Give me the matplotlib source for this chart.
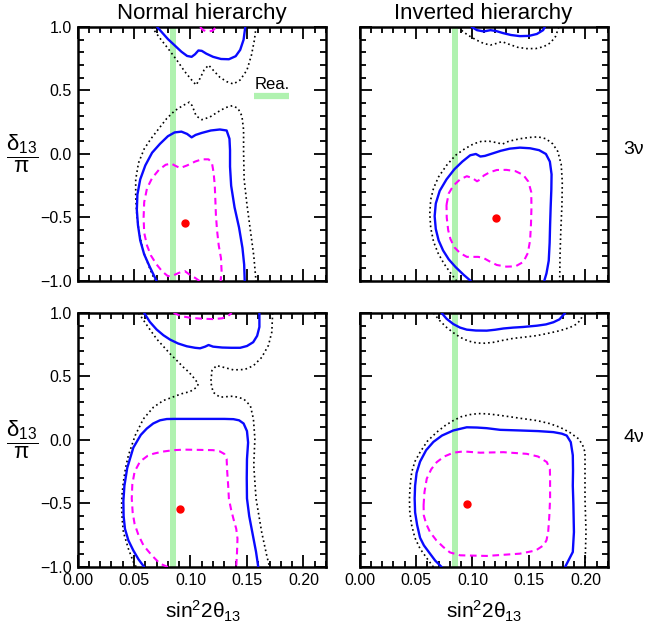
import matplotlib
matplotlib.use("Agg")
import matplotlib.pyplot as plt
import numpy as np
from matplotlib.ticker import MultipleLocator, FuncFormatter

plt.rcParams['font.family'] = ['Liberation Sans', 'DejaVu Sans']
plt.rcParams['mathtext.fontset'] = 'custom'
plt.rcParams['mathtext.rm'] = 'Liberation Sans'
plt.rcParams['mathtext.it'] = 'Liberation Sans'
plt.rcParams['mathtext.bf'] = 'Liberation Sans:bold'

# ---- data: (sin^2 2theta13, delta/pi) ----
# reactor band and legend
rea_band = [0.0815, 0.087]

# best fit points
bf_nh3 = (0.0952, -0.54)
bf_ih3 = (0.121, -0.504)
bf_nh4 = (0.0907, -0.541)
bf_ih4 = (0.0949, -0.502)

# Normal hierarchy, 3 nu
nh3_blue_top_x = [0.0705, 0.075, 0.080, 0.086, 0.092, 0.097, 0.101, 0.104, 0.107, 0.110, 0.114, 0.120, 0.127, 0.134, 0.140, 0.144, 0.147, 0.1485]
nh3_blue_top_y = [1.0, 0.955, 0.905, 0.855, 0.805, 0.772, 0.765, 0.785, 0.815, 0.812, 0.790, 0.765, 0.748, 0.746, 0.770, 0.820, 0.900, 1.0]
nh3_dot_top_x = [0.0657, 0.073, 0.080, 0.0878, 0.095, 0.101, 0.105, 0.1085, 0.112, 0.116, 0.120, 0.126, 0.132, 0.138, 0.144, 0.150, 0.154, 0.1566, 0.158]
nh3_dot_top_y = [1.0, 0.911, 0.832, 0.74, 0.648, 0.583, 0.543, 0.596, 0.661, 0.70, 0.661, 0.604, 0.57, 0.551, 0.583, 0.661, 0.78, 0.898, 1.0]
nh3_mag_top_x = [0.1085, 0.111, 0.115, 0.1195, 0.123]
nh3_mag_top_y = [1.0, 0.976, 0.963, 0.971, 1.0]
nh3_mag_x = [0.108, 0.104, 0.100, 0.095, 0.090, 0.085, 0.080, 0.075, 0.070, 0.065, 0.0615, 0.059, 0.0585, 0.059, 0.0615, 0.066, 0.072, 0.078, 0.083, 0.087, 0.091, 0.097, 0.104, 0.110, 0.116, 0.119, 0.1205, 0.1215, 0.122, 0.1225, 0.1235, 0.125, 0.127, 0.1275, 0.1267]
nh3_mag_y = [-1.0, -0.975, -0.955, -0.922, -0.935, -0.955, -0.962, -0.925, -0.87, -0.80, -0.72, -0.62, -0.50, -0.38, -0.27, -0.19, -0.125, -0.085, -0.075, -0.095, -0.11, -0.09, -0.06, -0.042, -0.042, -0.07, -0.15, -0.25, -0.36, -0.48, -0.60, -0.72, -0.82, -0.92, -1.0]
nh3_blue_x = [0.0700, 0.0640, 0.0590, 0.0555, 0.0535, 0.0525, 0.0530, 0.0555, 0.0600, 0.0660, 0.0730, 0.0800, 0.0860, 0.0920, 0.0970, 0.1010, 0.1045, 0.1100, 0.1180, 0.1260, 0.1320, 0.1345, 0.1350, 0.1350, 0.1360, 0.1390, 0.1430, 0.1460, 0.1475, 0.1480]
nh3_blue_y = [-1.0, -0.89, -0.79, -0.68, -0.56, -0.44, -0.32, -0.20, -0.09, 0.01, 0.08, 0.14, 0.17, 0.176, 0.158, 0.131, 0.150, 0.166, 0.185, 0.193, 0.185, 0.12, 0.03, -0.10, -0.25, -0.42, -0.58, -0.74, -0.87, -1.0]
nh3_dot_x = [0.0686, 0.0630, 0.0580, 0.0545, 0.0525, 0.0515, 0.0515, 0.0540, 0.0590, 0.0650, 0.0720, 0.0790, 0.0860, 0.0930, 0.0990, 0.1015, 0.1050, 0.1100, 0.1170, 0.1240, 0.1310, 0.1370, 0.1420, 0.1455, 0.1470, 0.1470, 0.1475, 0.1500, 0.1530, 0.1560, 0.1580]
nh3_dot_y = [-1.0, -0.88, -0.76, -0.62, -0.48, -0.34, -0.20, -0.07, 0.04, 0.12, 0.20, 0.28, 0.34, 0.38, 0.408, 0.38, 0.30, 0.27, 0.29, 0.33, 0.365, 0.38, 0.36, 0.30, 0.19, 0.02, -0.20, -0.40, -0.60, -0.80, -1.0]

# Inverted hierarchy, 3 nu
ih3_blue_top_x = [0.0993, 0.104, 0.110, 0.116, 0.121, 0.127, 0.134, 0.142, 0.150, 0.157, 0.1625, 0.164]
ih3_blue_top_y = [1.0, 0.975, 0.965, 0.975, 0.968, 0.952, 0.937, 0.928, 0.93, 0.945, 0.975, 1.0]
ih3_dot_top_x = [0.0875, 0.092, 0.098, 0.104, 0.110, 0.116, 0.121, 0.126, 0.132, 0.140, 0.148, 0.156, 0.163, 0.169, 0.1735, 0.1765]
ih3_dot_top_y = [1.0, 0.96, 0.925, 0.895, 0.87, 0.858, 0.87, 0.885, 0.865, 0.84, 0.83, 0.83, 0.845, 0.875, 0.925, 1.0]
ih3_blue_x = [0.0985, 0.0920, 0.0850, 0.0790, 0.0740, 0.0700, 0.0675, 0.0665, 0.0675, 0.0710, 0.0770, 0.0840, 0.0910, 0.0980, 0.1030, 0.1070, 0.1110, 0.1180, 0.1250, 0.1330, 0.1420, 0.1510, 0.1590, 0.1650, 0.1685, 0.1700, 0.1698, 0.1692, 0.1687, 0.1683, 0.1675, 0.1655, 0.1635]
ih3_blue_y = [-1.0, -0.95, -0.89, -0.83, -0.76, -0.68, -0.59, -0.49, -0.39, -0.29, -0.20, -0.12, -0.06, -0.01, 0.0, -0.02, -0.015, 0.005, 0.025, 0.042, 0.05, 0.045, 0.03, 0.0, -0.06, -0.16, -0.28, -0.42, -0.56, -0.70, -0.84, -0.94, -1.0]
ih3_dot_x = [0.0860, 0.0800, 0.0745, 0.0695, 0.0655, 0.0630, 0.0622, 0.0630, 0.0655, 0.0700, 0.0770, 0.0850, 0.0930, 0.1010, 0.1080, 0.1150, 0.1210, 0.1265, 0.1320, 0.1420, 0.1500, 0.1580, 0.1650, 0.1710, 0.1755, 0.1785, 0.1795, 0.1792, 0.1782, 0.1775, 0.1772]
ih3_dot_y = [-1.0, -0.93, -0.86, -0.78, -0.69, -0.58, -0.47, -0.36, -0.27, -0.18, -0.09, -0.01, 0.04, 0.08, 0.10, 0.10, 0.09, 0.078, 0.10, 0.12, 0.13, 0.135, 0.12, 0.08, 0.02, -0.08, -0.22, -0.40, -0.60, -0.80, -1.0]
ih3_mag_x = [0.0770, 0.0790, 0.0830, 0.0890, 0.0950, 0.1000, 0.1040, 0.1070, 0.1100, 0.1150, 0.1215, 0.1300, 0.1380, 0.1450, 0.1495, 0.1520, 0.1522, 0.1518, 0.1510, 0.1490, 0.1450, 0.1380, 0.1300, 0.1215, 0.1150, 0.1100, 0.1050, 0.1000, 0.0950, 0.0890, 0.0840, 0.0805, 0.0785, 0.0772, 0.0770]
ih3_mag_y = [-0.40, -0.31, -0.25, -0.20, -0.175, -0.19, -0.215, -0.2, -0.17, -0.145, -0.126, -0.125, -0.135, -0.165, -0.218, -0.30, -0.42, -0.55, -0.68, -0.78, -0.85, -0.885, -0.887, -0.874, -0.845, -0.82, -0.81, -0.81, -0.81, -0.78, -0.735, -0.67, -0.60, -0.50, -0.40]

# Normal hierarchy, 4 nu
nh4_blue_top_x = [0.059, 0.064, 0.070, 0.076, 0.082, 0.089, 0.0967, 0.104, 0.1085, 0.113, 0.116, 0.120, 0.128, 0.136, 0.144, 0.150, 0.1555, 0.159, 0.161, 0.161]
nh4_blue_top_y = [1.0, 0.93, 0.87, 0.825, 0.79, 0.76, 0.738, 0.726, 0.722, 0.735, 0.748, 0.735, 0.728, 0.726, 0.726, 0.74, 0.77, 0.82, 0.89, 1.0]
nh4_mag_top_x = [0.085, 0.092, 0.100, 0.110, 0.120, 0.128, 0.133, 0.1365]
nh4_mag_top_y = [1.0, 0.975, 0.962, 0.955, 0.952, 0.958, 0.975, 1.0]
nh4_dot_left_x = [0.054, 0.0627, 0.070, 0.076, 0.082, 0.088, 0.0937, 0.0985, 0.1025, 0.107, 0.1055, 0.0996, 0.0925, 0.0878, 0.082, 0.076, 0.0672, 0.0583, 0.051, 0.045, 0.0425, 0.0406, 0.0395, 0.039, 0.0395, 0.0406, 0.045, 0.0494, 0.052]
nh4_dot_left_y = [1.0, 0.887, 0.796, 0.737, 0.678, 0.625, 0.573, 0.535, 0.494, 0.442, 0.415, 0.381, 0.365, 0.35, 0.33, 0.311, 0.258, 0.166, 0.035, -0.122, -0.22, -0.33, -0.42, -0.515, -0.62, -0.725, -0.856, -0.96, -1.0]
nh4_dot_right_x = [0.1727, 0.1720, 0.1690, 0.1630, 0.1557, 0.1480, 0.1380, 0.1290, 0.1230, 0.1190, 0.1180, 0.1200, 0.1260, 0.1380, 0.1470, 0.1530, 0.1557, 0.1570, 0.1560, 0.1580, 0.1630, 0.1675, 0.1700]
nh4_dot_right_y = [1.0, 0.85, 0.745, 0.65, 0.585, 0.555, 0.552, 0.573, 0.586, 0.547, 0.455, 0.376, 0.337, 0.345, 0.324, 0.27, 0.166, 0.01, -0.20, -0.46, -0.725, -0.91, -1.0]
nh4_blue_x = [0.059, 0.054, 0.0494, 0.045, 0.042, 0.0408, 0.0406, 0.0415, 0.044, 0.0494, 0.056, 0.0613, 0.067, 0.073, 0.079, 0.085, 0.100, 0.115, 0.130, 0.138, 0.143, 0.147, 0.150, 0.151, 0.150, 0.1498, 0.150, 0.152, 0.155, 0.158, 0.160]
nh4_blue_y = [-1.0, -0.94, -0.87, -0.79, -0.70, -0.60, -0.48, -0.36, -0.22, -0.06, 0.04, 0.09, 0.13, 0.155, 0.165, 0.166, 0.166, 0.166, 0.166, 0.164, 0.155, 0.13, 0.07, -0.02, -0.15, -0.30, -0.46, -0.60, -0.74, -0.88, -1.0]
nh4_mag_x = [0.080, 0.073, 0.0657, 0.0584, 0.054, 0.0505, 0.0488, 0.048, 0.0485, 0.0505, 0.0553, 0.062, 0.0672, 0.075, 0.085, 0.095, 0.1085, 0.120, 0.126, 0.130, 0.132, 0.1325, 0.1333, 0.134, 0.136, 0.138, 0.1405, 0.1416, 0.1412, 0.1405]
nh4_mag_y = [-1.0, -0.974, -0.908, -0.83, -0.75, -0.66, -0.57, -0.46, -0.35, -0.25, -0.17, -0.125, -0.108, -0.092, -0.08, -0.076, -0.078, -0.08, -0.09, -0.11, -0.148, -0.25, -0.35, -0.463, -0.55, -0.62, -0.70, -0.777, -0.88, -1.0]

# Inverted hierarchy, 4 nu
ih4_blue_top_x = [0.0727, 0.077, 0.083, 0.089, 0.0949, 0.103, 0.1126, 0.120, 0.1274, 0.136, 0.145, 0.157, 0.165, 0.1716, 0.177, 0.182]
ih4_blue_top_y = [1.0, 0.955, 0.913, 0.885, 0.869, 0.862, 0.861, 0.868, 0.878, 0.885, 0.89, 0.90, 0.91, 0.927, 0.95, 1.0]
ih4_dot_top_x = [0.0654, 0.071, 0.077, 0.083, 0.089, 0.096, 0.1037, 0.111, 0.1185, 0.127, 0.136, 0.146, 0.157, 0.167, 0.1775, 0.186, 0.1923, 0.196, 0.198]
ih4_dot_top_y = [1.0, 0.94, 0.887, 0.845, 0.809, 0.78, 0.764, 0.762, 0.769, 0.785, 0.80, 0.81, 0.822, 0.84, 0.861, 0.885, 0.913, 0.95, 1.0]
ih4_blue_x = [0.0727, 0.067, 0.0624, 0.057, 0.0536, 0.051, 0.0492, 0.0488, 0.0492, 0.0505, 0.0536, 0.059, 0.0654, 0.073, 0.083, 0.0949, 0.104, 0.1126, 0.1245, 0.142, 0.158, 0.1716, 0.1790, 0.1834, 0.1870, 0.1888, 0.1890, 0.1888, 0.1893, 0.1898, 0.1888, 0.1850, 0.1820]
ih4_blue_y = [-1.0, -0.95, -0.895, -0.83, -0.77, -0.67, -0.57, -0.46, -0.36, -0.26, -0.17, -0.08, -0.015, 0.035, 0.075, 0.10, 0.098, 0.093, 0.08, 0.075, 0.07, 0.062, 0.05, 0.035, -0.017, -0.12, -0.24, -0.36, -0.50, -0.725, -0.882, -0.948, -1.0]
ih4_dot_x = [0.0654, 0.0595, 0.0536, 0.049, 0.0462, 0.0445, 0.0442, 0.0448, 0.0462, 0.049, 0.0536, 0.060, 0.0684, 0.076, 0.083, 0.090, 0.0978, 0.105, 0.1126, 0.121, 0.130, 0.143, 0.157, 0.168, 0.1775, 0.186, 0.194, 0.1975, 0.1996, 0.1996, 0.1996, 0.2005, 0.2, 0.1996]
ih4_dot_y = [-1.0, -0.93, -0.856, -0.77, -0.672, -0.57, -0.463, -0.36, -0.253, -0.17, -0.096, -0.01, 0.062, 0.115, 0.153, 0.183, 0.2, 0.208, 0.206, 0.198, 0.187, 0.17, 0.153, 0.13, 0.10, 0.06, 0.009, -0.04, -0.096, -0.28, -0.463, -0.725, -0.87, -1.0]
ih4_mag_x = [0.0567, 0.0575, 0.0595, 0.0635, 0.0684, 0.075, 0.083, 0.092, 0.1067, 0.1274, 0.148, 0.158, 0.1658, 0.1685, 0.1687, 0.1687, 0.168, 0.167, 0.1655, 0.1628, 0.156, 0.142, 0.1126, 0.089, 0.080, 0.0742, 0.068, 0.0624, 0.059, 0.0569, 0.0567]
ih4_mag_y = [-0.515, -0.41, -0.305, -0.23, -0.174, -0.13, -0.10, -0.09, -0.10, -0.096, -0.109, -0.13, -0.174, -0.23, -0.30, -0.463, -0.60, -0.725, -0.79, -0.83, -0.87, -0.895, -0.913, -0.908, -0.885, -0.843, -0.79, -0.725, -0.66, -0.594, -0.515]

# ---- styles ----
BLUE = '#0a0aff'
MAG = '#ff00ff'
GREEN = '#b0f2b0'

def blue(ax, x, y):
    ax.plot(x, y, color=BLUE, lw=1.7, solid_capstyle='round', zorder=4)

def mag(ax, x, y):
    ax.plot(x, y, color=MAG, lw=1.5, dashes=(3.2, 2.2), zorder=3)

def dots(ax, x, y):
    ax.plot(x, y, color='black', lw=1.2, dashes=(1.0, 1.8), zorder=3)

def fmt(nd):
    return FuncFormatter(lambda v, p: ('%.*f' % (nd, v)).replace('-', '\u2212'))

def setup(ax, xlab, ylab):
    ax.axvspan(rea_band[0], rea_band[1], color=GREEN, lw=0, zorder=1)
    ax.set_xlim(0, 0.22)
    ax.set_ylim(-1.0, 1.0)
    ax.xaxis.set_major_locator(MultipleLocator(0.05))
    ax.xaxis.set_minor_locator(MultipleLocator(0.01))
    ax.yaxis.set_major_locator(MultipleLocator(0.5))
    ax.yaxis.set_minor_locator(MultipleLocator(0.1))
    ax.tick_params(which='both', direction='in', top=True, right=True, width=1.3,
                   labelsize=11.5, pad=4)
    ax.tick_params(which='major', length=8.5)
    ax.tick_params(which='minor', length=4.5)
    ax.xaxis.set_major_formatter(fmt(2))
    ax.yaxis.set_major_formatter(fmt(1))
    if not xlab:
        ax.tick_params(labelbottom=False)
    if not ylab:
        ax.tick_params(labelleft=False)
    for s in ax.spines.values():
        s.set_linewidth(1.8)

fig = plt.figure(figsize=(6.45, 6.35), dpi=100)
ax_nh3 = fig.add_axes([0.1202, 0.5575, 0.3853, 0.4])
ax_ih3 = fig.add_axes([0.5574, 0.5575, 0.3853, 0.4])
ax_nh4 = fig.add_axes([0.1202, 0.1071, 0.3853, 0.4])
ax_ih4 = fig.add_axes([0.5574, 0.1071, 0.3853, 0.4])

setup(ax_nh3, False, True)
setup(ax_ih3, False, False)
setup(ax_nh4, True, True)
setup(ax_ih4, True, False)

# NH 3nu
dots(ax_nh3, nh3_dot_top_x, nh3_dot_top_y)
dots(ax_nh3, nh3_dot_x, nh3_dot_y)
blue(ax_nh3, nh3_blue_top_x, nh3_blue_top_y)
blue(ax_nh3, nh3_blue_x, nh3_blue_y)
mag(ax_nh3, nh3_mag_top_x, nh3_mag_top_y)
mag(ax_nh3, nh3_mag_x, nh3_mag_y)
ax_nh3.plot(*bf_nh3, 'o', color='red', ms=5, zorder=5)
ax_nh3.plot([0.156, 0.187], [0.453, 0.453], color=GREEN, lw=4.5, solid_capstyle='butt')
ax_nh3.text(0.1725, 0.51, 'Rea.', fontsize=12, ha='center', va='baseline')

# IH 3nu
dots(ax_ih3, ih3_dot_top_x, ih3_dot_top_y)
dots(ax_ih3, ih3_dot_x, ih3_dot_y)
blue(ax_ih3, ih3_blue_top_x, ih3_blue_top_y)
blue(ax_ih3, ih3_blue_x, ih3_blue_y)
mag(ax_ih3, ih3_mag_x, ih3_mag_y)
ax_ih3.plot(*bf_ih3, 'o', color='red', ms=5, zorder=5)

# NH 4nu
dots(ax_nh4, nh4_dot_left_x, nh4_dot_left_y)
dots(ax_nh4, nh4_dot_right_x, nh4_dot_right_y)
blue(ax_nh4, nh4_blue_top_x, nh4_blue_top_y)
blue(ax_nh4, nh4_blue_x, nh4_blue_y)
mag(ax_nh4, nh4_mag_top_x, nh4_mag_top_y)
mag(ax_nh4, nh4_mag_x, nh4_mag_y)
ax_nh4.plot(*bf_nh4, 'o', color='red', ms=5, zorder=5)

# IH 4nu
dots(ax_ih4, ih4_dot_top_x, ih4_dot_top_y)
dots(ax_ih4, ih4_dot_x, ih4_dot_y)
blue(ax_ih4, ih4_blue_top_x, ih4_blue_top_y)
blue(ax_ih4, ih4_blue_x, ih4_blue_y)
mag(ax_ih4, ih4_mag_x, ih4_mag_y)
ax_ih4.plot(*bf_ih4, 'o', color='red', ms=5, zorder=5)

# labels
W, H = 645.0, 635.0
fig.text(201.5 / W, 1 - 13 / H, 'Normal hierarchy', fontsize=16, ha='center', va='center')
fig.text(483.5 / W, 1 - 13 / H, 'Inverted hierarchy', fontsize=16, ha='center', va='center')
for yc in (154, 440):
    fig.text(22 / W, 1 - yc / H, r'$\dfrac{\delta_{13}}{\pi}$', fontsize=16, ha='center', va='center')
fig.text(623 / W, 1 - 150 / H, '3ν', fontsize=14, ha='left', va='center')
fig.text(623 / W, 1 - 438 / H, '4ν', fontsize=14, ha='left', va='center')
for xc in (203, 484):
    fig.text(xc / W, 1 - 618 / H, r'sin$^2$2$\theta_{13}$', fontsize=15, ha='center', va='baseline')

fig.savefig('out.png', dpi=100)
